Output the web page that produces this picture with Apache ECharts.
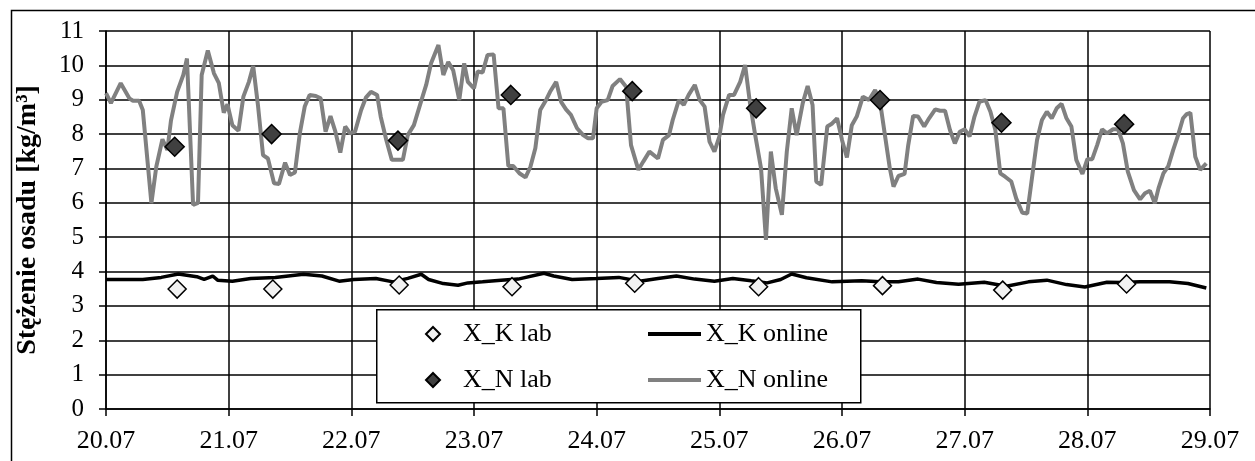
<!DOCTYPE html>
<html>
<head>
<meta charset="utf-8">
<title>Stężenie osadu</title>
<script src="https://cdn.jsdelivr.net/npm/echarts@6/dist/echarts.min.js"></script>
<style>
    html, body { margin: 0; padding: 0; background: #fff; }
    #lines { width: 1255px; height: 461px; }
</style>
</head>
<body>
<div id="lines"></div>
<script>
// etykiety osi X (dni), liczone od 20.07 00:00
var dayLabels = ['20.07', '21.07', '22.07', '23.07', '24.07', '25.07', '26.07', '27.07', '28.07', '29.07'];

// X_K lab - pomiary laboratoryjne
var kLabT = [0.58, 1.36, 2.39, 3.31, 4.31, 5.32, 6.33, 7.31, 8.32];
var kLabV = [3.49, 3.49, 3.61, 3.56, 3.66, 3.56, 3.59, 3.46, 3.64];

// X_N lab
var nLabT = [0.56, 1.35, 2.38, 3.30, 4.29, 5.30, 6.31, 7.30, 8.30];
var nLabV = [7.63, 8.00, 7.81, 9.14, 9.25, 8.75, 8.99, 8.33, 8.29];

// X_K online
var kOnlineT = [0, 0.30, 0.45, 0.59, 0.74, 0.80, 0.87, 0.91, 1.03, 1.18, 1.38, 1.61, 1.76, 1.90, 2.02, 2.20,
    2.34, 2.46, 2.57, 2.63, 2.75, 2.87, 2.95, 3.07, 3.22, 3.36, 3.57, 3.65, 3.80, 4.00, 4.18, 4.35,
    4.50, 4.65, 4.80, 4.96, 5.11, 5.26, 5.39, 5.50, 5.59, 5.71, 5.92, 6.16, 6.31, 6.46, 6.62, 6.77,
    6.95, 7.16, 7.34, 7.52, 7.67, 7.83, 7.98, 8.16, 8.28, 8.43, 8.67, 8.82, 8.97];
var kOnlineV = [3.77, 3.77, 3.83, 3.93, 3.85, 3.77, 3.87, 3.75, 3.72, 3.80, 3.83, 3.92, 3.87, 3.72, 3.77, 3.80,
    3.70, 3.80, 3.92, 3.77, 3.65, 3.60, 3.67, 3.70, 3.75, 3.78, 3.95, 3.87, 3.77, 3.80, 3.83, 3.72,
    3.80, 3.87, 3.78, 3.72, 3.80, 3.73, 3.67, 3.77, 3.93, 3.82, 3.70, 3.73, 3.70, 3.70, 3.78, 3.68,
    3.63, 3.69, 3.57, 3.70, 3.75, 3.62, 3.55, 3.69, 3.68, 3.70, 3.70, 3.65, 3.52];

// X_N online
var nOnlineT = [0, 0.04, 0.12, 0.19, 0.22, 0.27, 0.30, 0.37, 0.41, 0.46, 0.50, 0.53, 0.58, 0.63, 0.66, 0.71,
    0.75, 0.78, 0.83, 0.88, 0.92, 0.96, 0.99, 1.03, 1.08, 1.12, 1.165, 1.20, 1.24, 1.28, 1.32, 1.37,
    1.41, 1.46, 1.50, 1.54, 1.58, 1.62, 1.66, 1.71, 1.75, 1.79, 1.83, 1.87, 1.91, 1.95, 1.99, 2.03,
    2.08, 2.12, 2.16, 2.21, 2.24, 2.285, 2.33, 2.38, 2.42, 2.46, 2.51, 2.56, 2.61, 2.65, 2.71, 2.75,
    2.79, 2.83, 2.88, 2.92, 2.95, 3.00, 3.03, 3.07, 3.11, 3.16, 3.20, 3.24, 3.28, 3.32, 3.37, 3.42,
    3.46, 3.50, 3.54, 3.59, 3.62, 3.67, 3.71, 3.75, 3.79, 3.84, 3.89, 3.93, 3.97, 4.00, 4.04, 4.09,
    4.13, 4.19, 4.24, 4.28, 4.34, 4.38, 4.43, 4.50, 4.54, 4.59, 4.62, 4.67, 4.71, 4.75, 4.80, 4.84,
    4.88, 4.92, 4.96, 5.00, 5.03, 5.08, 5.12, 5.17, 5.21, 5.25, 5.29, 5.34, 5.38, 5.42, 5.46, 5.51,
    5.55, 5.59, 5.63, 5.68, 5.72, 5.76, 5.79, 5.83, 5.88, 5.92, 5.96, 6.00, 6.04, 6.08, 6.12, 6.17,
    6.22, 6.27, 6.31, 6.35, 6.39, 6.42, 6.46, 6.51, 6.54, 6.58, 6.62, 6.67, 6.71, 6.76, 6.80, 6.84,
    6.88, 6.92, 6.96, 7.00, 7.04, 7.08, 7.12, 7.17, 7.21, 7.25, 7.29, 7.33, 7.38, 7.42, 7.47, 7.51,
    7.55, 7.59, 7.63, 7.67, 7.71, 7.75, 7.79, 7.83, 7.87, 7.91, 7.96, 8.00, 8.04, 8.08, 8.12, 8.16,
    8.21, 8.25, 8.29, 8.33, 8.38, 8.43, 8.47, 8.51, 8.55, 8.58, 8.62, 8.66, 8.70, 8.74, 8.78, 8.81,
    8.84, 8.88, 8.92, 8.97];
var nOnlineV = [9.19, 8.90, 9.48, 9.04, 8.97, 8.97, 8.70, 5.99, 7.05, 7.85, 7.54, 8.40, 9.23, 9.72, 10.20, 5.94,
    6.00, 9.72, 10.43, 9.77, 9.48, 8.62, 8.87, 8.26, 8.10, 9.09, 9.52, 9.98, 8.80, 7.39, 7.29, 6.57,
    6.55, 7.17, 6.81, 6.88, 8.02, 8.80, 9.14, 9.11, 9.04, 8.07, 8.52, 8.07, 7.46, 8.22, 8.02, 8.07,
    8.70, 9.07, 9.23, 9.14, 8.50, 7.83, 7.25, 7.25, 7.25, 7.97, 8.26, 8.85, 9.43, 10.06, 10.59, 9.72,
    10.10, 9.86, 8.99, 10.06, 9.52, 9.33, 9.82, 9.79, 10.30, 10.32, 8.75, 8.75, 7.07, 7.07, 6.86, 6.74,
    7.05, 7.59, 8.70, 9.01, 9.23, 9.52, 8.94, 8.72, 8.56, 8.17, 7.97, 7.88, 7.88, 8.75, 8.94, 8.99,
    9.40, 9.60, 9.38, 7.68, 6.96, 7.20, 7.49, 7.29, 7.83, 7.97, 8.41, 8.99, 8.85, 9.14, 9.43, 8.99,
    8.80, 7.78, 7.49, 7.93, 8.56, 9.14, 9.14, 9.52, 10.01, 8.90, 8.02, 7.00, 4.92, 7.49, 6.42, 5.65,
    7.49, 8.75, 7.97, 8.90, 9.40, 8.85, 6.62, 6.52, 8.22, 8.31, 8.46, 7.83, 7.32, 8.26, 8.51, 9.09,
    8.99, 9.28, 8.94, 7.97, 7.00, 6.47, 6.78, 6.84, 7.68, 8.53, 8.51, 8.22, 8.46, 8.72, 8.68, 8.68,
    8.12, 7.73, 8.07, 8.14, 7.93, 8.51, 8.94, 8.99, 8.65, 8.12, 6.86, 6.76, 6.62, 6.13, 5.71, 5.69,
    6.76, 7.83, 8.41, 8.65, 8.46, 8.75, 8.88, 8.46, 8.22, 7.25, 6.84, 7.27, 7.27, 7.68, 8.14, 8.02,
    8.14, 8.14, 7.73, 6.91, 6.37, 6.10, 6.28, 6.35, 5.99, 6.42, 6.86, 7.07, 7.54, 7.97, 8.46, 8.58,
    8.62, 7.34, 6.96, 7.15];

var serif = "'Liberation Serif', 'Times New Roman', serif";

function zip(t, v) {
    var out = [];
    for (var i = 0; i < t.length; i++) {
        out.push([t[i], v[i]]);
    }
    return out;
}

// jedna pozycja legendy = jeden komponent, zeby ulozyc 2x2 jak w oryginale
function legendItem(name, left, top, isLine) {
    return {
        data: [isLine ? {name: name, icon: 'rect'} : {name: name, icon: 'diamond'}],
        left: left,
        top: top,
        padding: 0,
        itemWidth: isLine ? 53 : 14,
        itemHeight: isLine ? 4 : 14,
        selectedMode: false,
        textStyle: {
            fontFamily: serif,
            fontSize: 26,
            color: '#000',
            padding: isLine ? 0 : [0, 0, 0, 18]
        }
    };
}

function buildChart() {
    var myChart = echarts.init(document.getElementById('lines'), null, {renderer: 'canvas'});
    var axisBlack = {lineStyle: {color: '#000', width: 1.5}};
    myChart.setOption({
        animation: false,
        backgroundColor: '#fff',
        grid: {left: 106, right: 45, top: 31, bottom: 52, containLabel: false},
        xAxis: {
            type: 'value',
            min: 0,
            max: 9,
            interval: 1,
            axisLine: axisBlack,
            axisTick: {show: true, length: 7, lineStyle: {color: '#000', width: 1.5}},
            splitLine: {show: true, lineStyle: {color: '#000', width: 1.5}},
            axisLabel: {
                margin: 19,
                fontFamily: serif,
                fontSize: 26,
                color: '#000',
                formatter: function (v) {
                    return dayLabels[Math.round(v)];
                }
            }
        },
        yAxis: {
            type: 'value',
            min: 0,
            max: 11,
            interval: 1,
            name: 'Stężenie osadu [kg/m³]',
            nameLocation: 'middle',
            nameRotate: 90,
            nameGap: 64,
            nameTextStyle: {fontFamily: serif, fontSize: 28, fontWeight: 'bold', color: '#000'},
            axisLine: axisBlack,
            axisTick: {show: true, length: 7, lineStyle: {color: '#000', width: 1.5}},
            splitLine: {show: true, lineStyle: {color: '#000', width: 1.5}},
            axisLabel: {margin: 22, fontFamily: serif, fontSize: 25, color: '#000'}
        },
        legend: [
            legendItem('X_K lab', 425, 321, false),
            legendItem('X_K online', 648, 321, true),
            legendItem('X_N lab', 425, 367, false),
            legendItem('X_N online', 648, 367, true)
        ],
        graphic: [
            {
                type: 'rect',
                left: 9, top: 8,
                shape: {width: 1262, height: 452},
                style: {fill: 'none', stroke: '#000', lineWidth: 1.5},
                z: 1
            },
            {
                type: 'rect',
                left: 376, top: 309,
                shape: {width: 484, height: 93},
                style: {fill: '#fff', stroke: '#000', lineWidth: 1.5},
                z: 3
            }
        ],
        series: [
            {
                name: 'X_K online',
                type: 'line',
                data: zip(kOnlineT, kOnlineV),
                showSymbol: false,
                symbol: 'none',
                lineStyle: {color: '#000', width: 3.5},
                itemStyle: {color: '#000'},
                z: 4
            },
            {
                name: 'X_N online',
                type: 'line',
                data: zip(nOnlineT, nOnlineV),
                showSymbol: false,
                symbol: 'none',
                lineStyle: {color: '#808080', width: 4},
                itemStyle: {color: '#808080'},
                z: 4
            },
            {
                name: 'X_K lab',
                type: 'scatter',
                data: zip(kLabT, kLabV),
                symbol: 'diamond',
                symbolSize: 18,
                itemStyle: {color: '#f2f2f2', borderColor: '#000', borderWidth: 1.5, opacity: 1},
                z: 5
            },
            {
                name: 'X_N lab',
                type: 'scatter',
                data: zip(nLabT, nLabV),
                symbol: 'diamond',
                symbolSize: 19,
                itemStyle: {color: '#404040', borderColor: '#000', borderWidth: 1.5, opacity: 1},
                z: 5
            }
        ]
    });
}

buildChart();
</script>
</body>
</html>
